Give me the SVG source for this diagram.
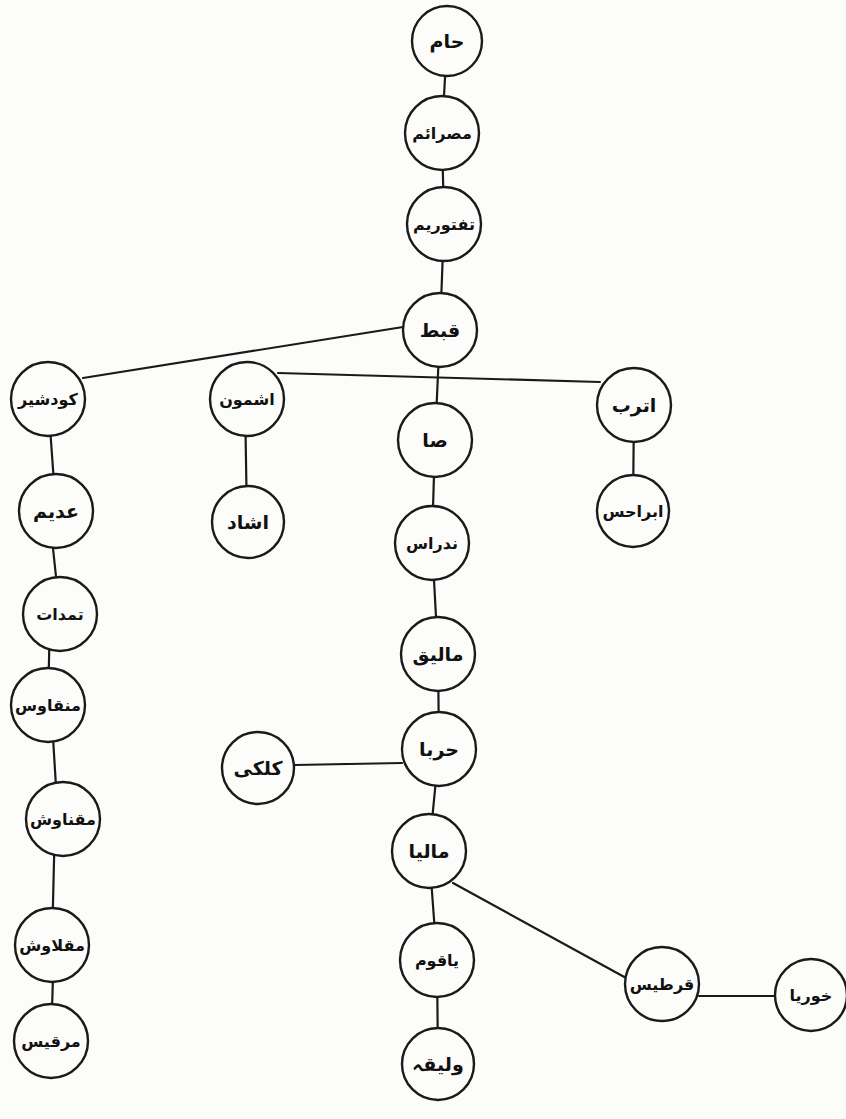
<svg xmlns="http://www.w3.org/2000/svg" width="846" height="1119" viewBox="0 0 846 1119">
<style>
.bg{fill:#fcfcfa}
.e{stroke:#1a1a1a;stroke-width:2.2;fill:none;stroke-linecap:round}
.n circle{fill:#fcfcfa;stroke:#1a1a1a;stroke-width:2.4}
.n text{font-family:"DejaVu Sans",sans-serif;font-size:19px;font-weight:bold;fill:#111;text-anchor:middle;dominant-baseline:central}
.n text.s{font-size:16px}
</style>
<rect class="bg" x="0" y="0" width="846" height="1119"/>
<g id="connectors">
<line class="e" x1="447" y1="41" x2="442" y2="133"/>
<line class="e" x1="442" y1="133" x2="444" y2="224"/>
<line class="e" x1="444" y1="224" x2="440" y2="330"/>
<line class="e" x1="440" y1="330" x2="435" y2="440"/>
<line class="e" x1="435" y1="440" x2="432" y2="543"/>
<line class="e" x1="432" y1="543" x2="438" y2="654"/>
<line class="e" x1="438" y1="654" x2="439" y2="749"/>
<line class="e" x1="439" y1="749" x2="429" y2="851"/>
<line class="e" x1="429" y1="851" x2="437" y2="960"/>
<line class="e" x1="437" y1="960" x2="438" y2="1064"/>
<line class="e" x1="403" y1="327" x2="83" y2="378"/>
<line class="e" x1="278" y1="373" x2="600" y2="382"/>
<line class="e" x1="245" y1="399" x2="247" y2="522"/>
<line class="e" x1="634" y1="405" x2="633" y2="511"/>
<line class="e" x1="48" y1="399" x2="56" y2="511"/>
<line class="e" x1="49" y1="511" x2="60" y2="614"/>
<line class="e" x1="50" y1="614" x2="48" y2="705"/>
<line class="e" x1="51" y1="705" x2="58" y2="819"/>
<line class="e" x1="55" y1="819" x2="52" y2="945"/>
<line class="e" x1="54" y1="945" x2="51" y2="1041"/>
<line class="e" x1="295" y1="765" x2="402" y2="763"/>
<line class="e" x1="453" y1="883" x2="628" y2="979"/>
<line class="e" x1="699" y1="996" x2="776" y2="996"/>
</g>
<g id="n1" class="n"><circle cx="447" cy="41" r="35"/><text x="447" y="41">حام</text></g>
<g id="n2" class="n"><circle cx="442" cy="133" r="37"/><text class="s" x="442" y="133">مصرائم</text></g>
<g id="n3" class="n"><circle cx="444" cy="224" r="37"/><text class="s" x="444" y="224">تفتوریم</text></g>
<g id="n4" class="n"><circle cx="440" cy="330" r="37"/><text x="440" y="330">قبط</text></g>
<g id="n5" class="n"><circle cx="48" cy="399" r="37"/><text class="s" x="48" y="399">کودشیر</text></g>
<g id="n6" class="n"><circle cx="247" cy="399" r="37"/><text class="s" x="247" y="399">اشمون</text></g>
<g id="n7" class="n"><circle cx="435" cy="440" r="37"/><text x="435" y="440">صا</text></g>
<g id="n8" class="n"><circle cx="634" cy="405" r="37"/><text x="634" y="405">اترب</text></g>
<g id="n9" class="n"><circle cx="56" cy="511" r="37"/><text x="56" y="511">عدیم</text></g>
<g id="n10" class="n"><circle cx="248" cy="522" r="36"/><text x="248" y="522">اشاد</text></g>
<g id="n11" class="n"><circle cx="633" cy="511" r="36"/><text class="s" x="633" y="511">ابراحس</text></g>
<g id="n12" class="n"><circle cx="432" cy="543" r="37"/><text class="s" x="432" y="543">ندراس</text></g>
<g id="n13" class="n"><circle cx="60" cy="614" r="37"/><text class="s" x="60" y="614">تمدات</text></g>
<g id="n14" class="n"><circle cx="438" cy="654" r="37"/><text x="438" y="654">مالیق</text></g>
<g id="n15" class="n"><circle cx="48" cy="705" r="37"/><text class="s" x="48" y="705">منقاوس</text></g>
<g id="n16" class="n"><circle cx="439" cy="749" r="37"/><text x="439" y="749">حربا</text></g>
<g id="n17" class="n"><circle cx="258" cy="768" r="36"/><text x="258" y="768">کلکی</text></g>
<g id="n18" class="n"><circle cx="63" cy="819" r="37"/><text class="s" x="63" y="819">مقناوش</text></g>
<g id="n19" class="n"><circle cx="429" cy="851" r="37"/><text x="429" y="851">ماليا</text></g>
<g id="n20" class="n"><circle cx="52" cy="945" r="37"/><text class="s" x="52" y="945">مقلاوش</text></g>
<g id="n21" class="n"><circle cx="437" cy="960" r="37"/><text class="s" x="437" y="960">یاقوم</text></g>
<g id="n22" class="n"><circle cx="662" cy="984" r="37"/><text class="s" x="662" y="984">قرطیس</text></g>
<g id="n23" class="n"><circle cx="811" cy="995" r="36"/><text class="s" x="811" y="995">خوریا</text></g>
<g id="n24" class="n"><circle cx="51" cy="1041" r="37"/><text class="s" x="51" y="1041">مرقیس</text></g>
<g id="n25" class="n"><circle cx="438" cy="1064" r="36"/><text x="438" y="1064">ولیقہ</text></g>
</svg>
